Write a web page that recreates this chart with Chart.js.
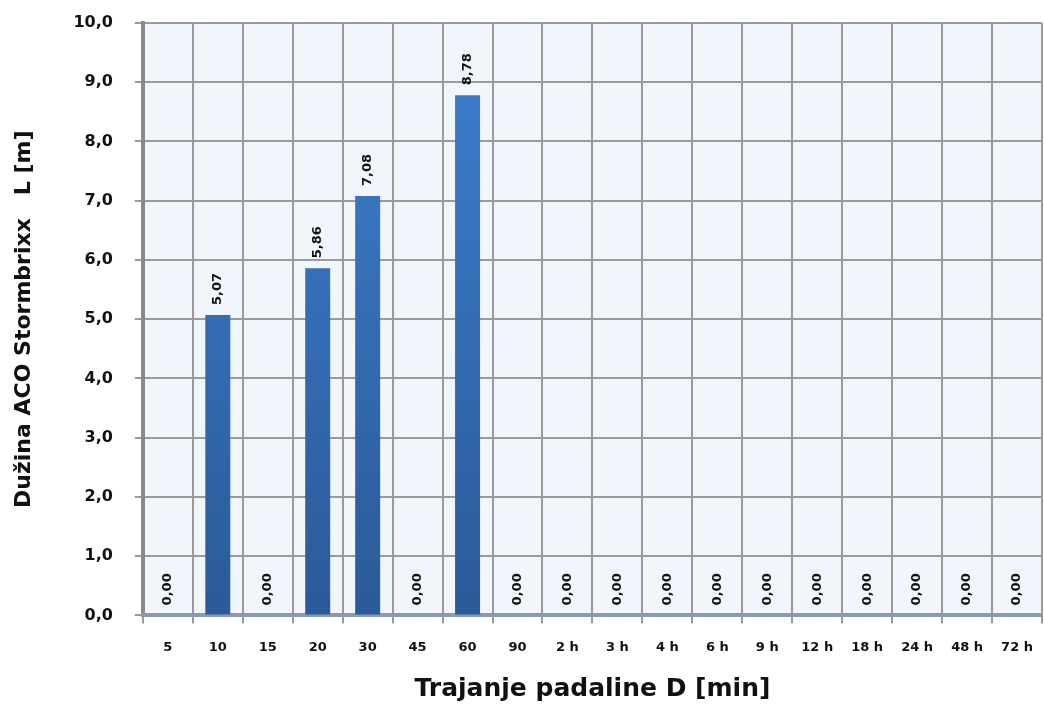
<!DOCTYPE html>
<html>
<head>
<meta charset="utf-8">
<script src="https://cdn.jsdelivr.net/npm/chart.js@4"></script>
<style>
  html, body { margin: 0; padding: 0; background: #fff; }
  #wrap { width: 1044px; height: 704px; }
</style>
</head>
<body>
<div id="wrap"><canvas id="myChart" width="1044" height="704"></canvas></div>
<script>
const labels = ['5', '10', '15', '20', '30', '45', '60', '90', '2 h', '3 h', '4 h', '6 h', '9 h', '12 h', '18 h', '24 h', '48 h', '72 h'];
const lengths = [0, 5.07, 0, 5.86, 7.08, 0, 8.78, 0, 0, 0, 0, 0, 0, 0, 0, 0, 0, 0];

const ctx = document.getElementById('myChart');

// rotated value labels above every bar
const valueLabels = {
  id: 'valueLabels',
  afterDatasetsDraw(chart) {
    const c = chart.ctx;
    const meta = chart.getDatasetMeta(0);
    c.save();
    c.font = 'bold 13px "DejaVu Sans", sans-serif';
    c.fillStyle = '#111';
    c.textBaseline = 'middle';
    c.textAlign = 'left';
    meta.data.forEach((bar, i) => {
      const txt = lengths[i].toFixed(2).replace('.', ',');
      c.save();
      c.translate(bar.x, bar.y - 10);
      c.rotate(-Math.PI / 2);
      c.fillText(txt, 0, 0);
      c.restore();
    });
    c.restore();
  }
};

const plotBg = {
  id: 'plotBg',
  beforeDraw(chart) {
    const a = chart.chartArea;
    const c = chart.ctx;
    c.save();
    c.fillStyle = '#f1f5fc';
    c.fillRect(a.left, a.top, a.right - a.left, a.bottom - a.top);
    c.restore();
  }
};

new Chart(ctx, {
  type: 'bar',
  data: {
    labels: labels,
    datasets: [{
      label: 'L',
      data: lengths,
      backgroundColor: (context) => {
        const chart = context.chart;
        const a = chart.chartArea;
        if (!a) return '#3a78c8';
        const g = chart.ctx.createLinearGradient(0, a.top, 0, a.bottom);
        g.addColorStop(0, '#3d7fd0');
        g.addColorStop(1, '#2b5a98');
        return g;
      },
      borderWidth: 0,
      barPercentage: 0.5,
      categoryPercentage: 1.0
    }]
  },
  options: {
    responsive: false,
    animation: false,
    layout: { padding: { top: 0, right: 2, left: 7, bottom: 0 } },
    scales: {
      y: {
        min: 0,
        max: 10,
        afterFit: (scale) => { scale.paddingTop = 23; },
        ticks: {
          stepSize: 1,
          color: '#111',
          padding: 22,
          font: { family: '"DejaVu Sans", sans-serif', size: 16, weight: 'bold' },
          callback: (v) => Number(v).toFixed(1).replace('.', ',')
        },
        grid: { color: '#9a9a9a', lineWidth: 2, drawTicks: true, tickLength: 8 },
        border: { color: '#8a8a8a', width: 4 },
        title: {
          display: true,
          text: 'Dužina ACO Stormbrixx   L [m]',
          color: '#111',
          font: { family: '"DejaVu Sans", sans-serif', size: 22, weight: 'bold' },
          padding: { bottom: 14 }
        }
      },
      x: {
        afterFit: (scale) => { scale.paddingRight = 0; scale.paddingLeft = 0; },
        ticks: {
          color: '#111',
          padding: 16,
          font: { family: '"DejaVu Sans", sans-serif', size: 13, weight: 'bold' }
        },
        grid: { color: '#9a9a9a', lineWidth: 2, offset: true, tickLength: 8 },
        border: { color: '#8a9ab0', width: 4 },
        title: {
          display: true,
          text: 'Trajanje padaline D [min]',
          color: '#111',
          font: { family: '"DejaVu Sans", sans-serif', size: 25, weight: 'bold' },
          padding: { top: 3, bottom: 0 }
        }
      }
    },
    plugins: {
      legend: { display: false },
      tooltip: { enabled: false }
    }
  },
  plugins: [plotBg, valueLabels]
});
</script>
</body>
</html>
